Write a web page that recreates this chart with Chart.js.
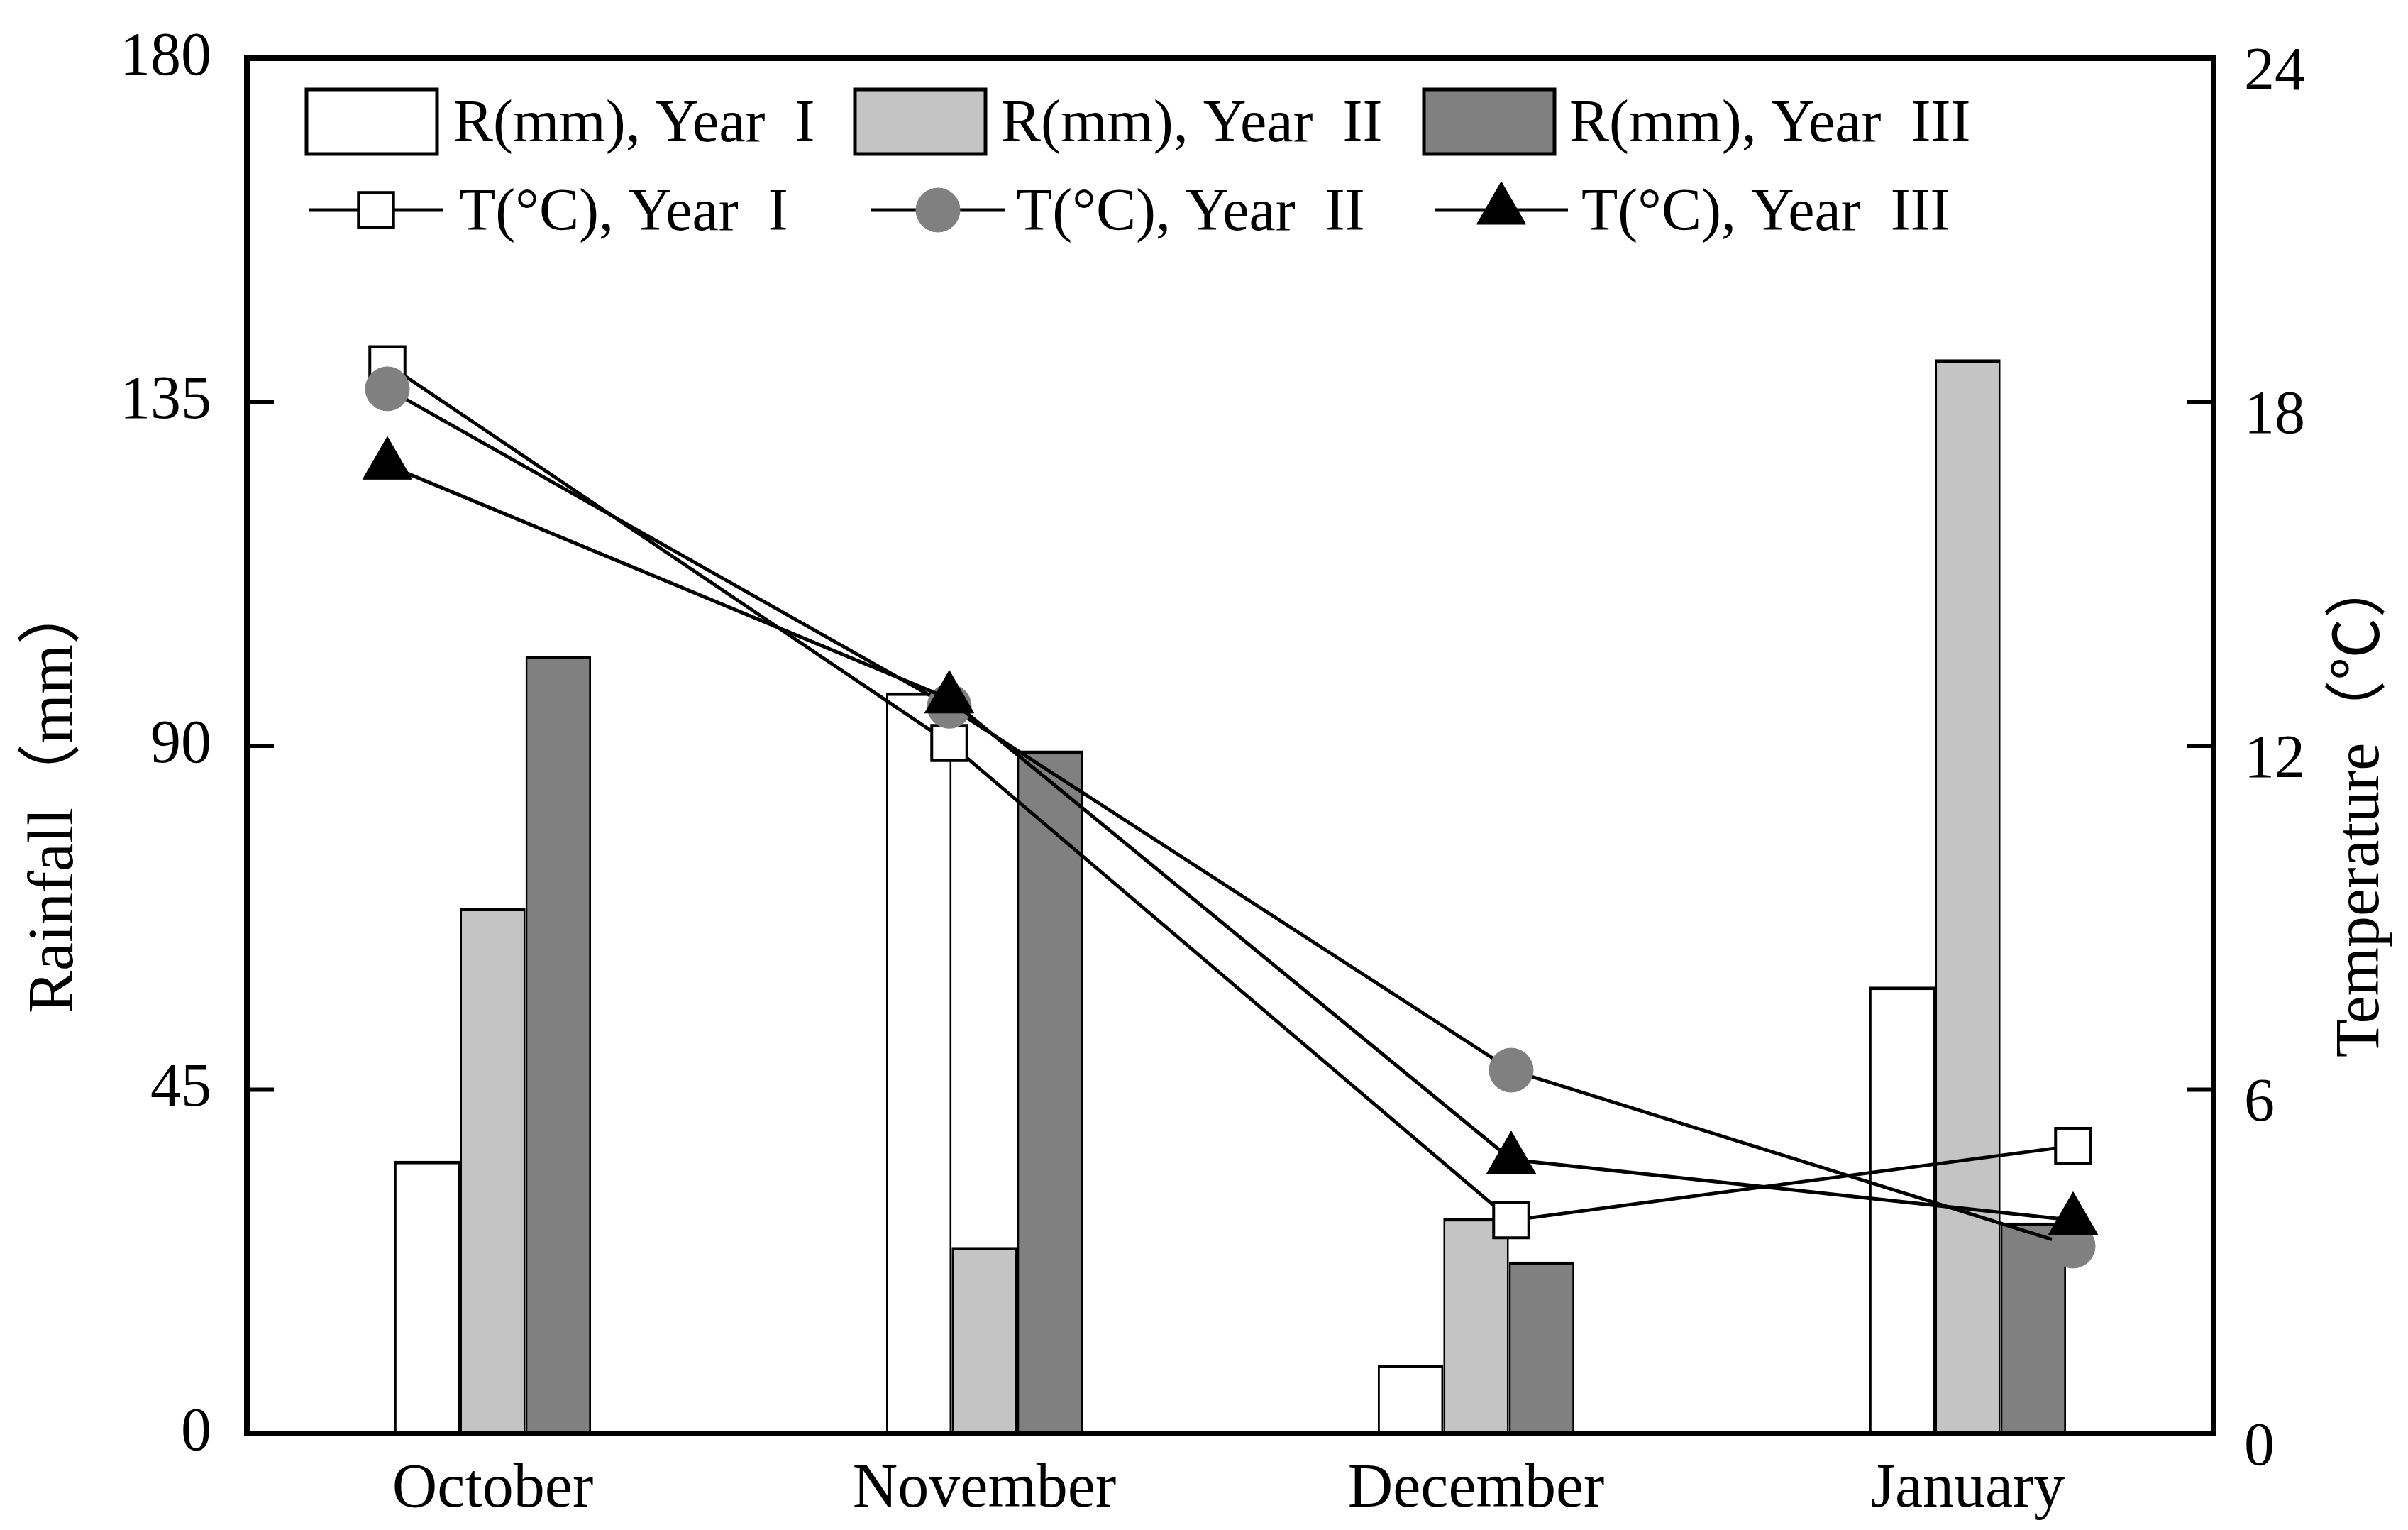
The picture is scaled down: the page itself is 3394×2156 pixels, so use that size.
<!DOCTYPE html>
<html><head><meta charset="utf-8">
<script src="https://cdn.jsdelivr.net/npm/chart.js@4.4.1/dist/chart.umd.min.js"></script>
<style>html,body{margin:0;padding:0;background:#fff;}canvas{display:block;}</style>
</head><body>
<canvas id="c" width="3394" height="2156" style="width:3394px;height:2156px"></canvas>
<script>
// ---- data ----
const months = ['October', 'November', 'December', 'January'];
const rainYear1 = [35.7, 97.0, 9.0, 58.5];
const rainYear2 = [68.8, 24.4, 28.2, 140.6];
const rainYear3 = [101.8, 89.4, 22.5, 27.6];
const tempYear1 = [18.66, 12.05, 3.72, 5.02];
const tempYear2 = [18.23, 12.69, 6.34, 3.27];
const tempYear3 = [16.9, 12.82, 4.78, 3.72];
const rainAxis = {min: 0, max: 180, step: 45};
const tempAxis = {min: 0, max: 24, step: 6};
const rainLabels = ['R(mm), Year  I', 'R(mm), Year  II', 'R(mm), Year  III'];
const tempLabels = ['T(°C), Year  I', 'T(°C), Year  II', 'T(°C), Year  III'];
const yTitleLeft = 'Rainfall（mm）';
const yTitleRight = 'Temperature（℃）';

// Chart.js 4.5 splits bar groups across every index axis in the chart; the line
// series sit on their own hidden x axis, so keep the bars grouped on a single axis.
(function () {
  const P = Chart.BarController && Chart.BarController.prototype;
  if (P && typeof P._getAxisCount === 'function') P._getAxisCount = function () { return 1; };
  if (P && typeof P._getAxis === 'function') P._getAxis = function () {
    const ds = this.getDataset();
    return [ds.xAxisID !== undefined ? ds.xAxisID : this._cachedMeta.xAxisID];
  };
})();

// ---- styles ----
const FONT = "'Liberation Serif', 'Times New Roman', 'Noto Sans CJK SC', serif";
const colW = '#ffffff', colL = '#c4c4c4', colD = '#808080';

const toXY = arr => arr.map((v, i) => ({x: i, y: v}));

const barBase = {
  type: 'bar', xAxisID: 'x', yAxisID: 'y', borderColor: '#000',
  borderWidth: {top: 5, left: 3, right: 3, bottom: 0}, borderSkipped: false,
  categoryPercentage: 0.4, barPercentage: 1.0
};
const lineBase = {
  type: 'line', xAxisID: 'xl', yAxisID: 'y2', borderColor: '#000',
  borderWidth: 5, tension: 0, fill: false
};

const datasets = [
  {...lineBase, label: tempLabels[2], data: toXY(tempYear3), pointStyle: 'triangle', pointRadius: 40,
    pointBackgroundColor: '#000', pointBorderColor: '#000', pointBorderWidth: 1, order: 0},
  {...lineBase, label: tempLabels[1], data: toXY(tempYear2), pointStyle: 'circle', pointRadius: 31,
    pointBackgroundColor: colD, pointBorderColor: colD, pointBorderWidth: 1, order: 1},
  {...lineBase, label: tempLabels[0], data: toXY(tempYear1), pointStyle: 'rect', pointRadius: 35,
    pointBackgroundColor: '#fff', pointBorderColor: '#000', pointBorderWidth: 4, order: 2},
  {...barBase, label: rainLabels[0], data: rainYear1, backgroundColor: colW, order: 3},
  {...barBase, label: rainLabels[1], data: rainYear2, backgroundColor: colL, order: 4},
  {...barBase, label: rainLabels[2], data: rainYear3, backgroundColor: colD, order: 5}
];

function drawMarker(ctx, style, x, y, r, fill, stroke, lw) {
  ctx.save();
  ctx.fillStyle = fill; ctx.strokeStyle = stroke; ctx.lineWidth = lw;
  ctx.beginPath();
  if (style === 'rect') {
    const s = Math.SQRT1_2 * r;
    ctx.rect(x - s, y - s, 2 * s, 2 * s);
  } else if (style === 'circle') {
    ctx.arc(x, y, r, 0, Math.PI * 2);
  } else {
    ctx.moveTo(x, y - r);
    ctx.lineTo(x + 0.866 * r, y + 0.5 * r);
    ctx.lineTo(x - 0.866 * r, y + 0.5 * r);
    ctx.closePath();
  }
  ctx.fill(); ctx.stroke();
  ctx.restore();
}

const decor = {
  id: 'decor',
  afterDraw(chart) {
    const ctx = chart.ctx;
    const a = chart.chartArea;
    ctx.save();
    // frame
    ctx.strokeStyle = '#000';
    ctx.lineWidth = 8;
    ctx.strokeRect(a.left, a.top, a.right - a.left, a.bottom - a.top);
    // inward tick marks
    ctx.lineWidth = 6;
    const yl = chart.scales.y, yr = chart.scales.y2;
    yl.ticks.forEach(t => {
      const p = yl.getPixelForValue(t.value);
      ctx.beginPath(); ctx.moveTo(a.left, p); ctx.lineTo(a.left + 38, p); ctx.stroke();
    });
    yr.ticks.forEach(t => {
      const p = yr.getPixelForValue(t.value);
      ctx.beginPath(); ctx.moveTo(a.right, p); ctx.lineTo(a.right - 38, p); ctx.stroke();
    });
    // axis titles
    ctx.fillStyle = '#000';
    ctx.textBaseline = 'alphabetic';
    ctx.textAlign = 'left';
    ctx.font = '90px ' + FONT;
    ctx.save(); ctx.translate(102, 1428); ctx.rotate(-Math.PI / 2); ctx.fillText(yTitleLeft, 0, 0); ctx.restore();
    ctx.font = '88px ' + FONT;
    ctx.save(); ctx.translate(3352, 1490); ctx.rotate(-Math.PI / 2); ctx.fillText(yTitleRight, 0, 0); ctx.restore();

    // legend
    const barDs = datasets.filter(d => d.type === 'bar');
    const lineDs = [datasets[2], datasets[1], datasets[0]];
    const boxX = [432, 1205, 2007], boxTextX = [639, 1411, 2212];
    const lnX = [436, 1228, 2022], lnTextX = [647, 1432, 2229];
    ctx.font = '84px ' + FONT;
    barDs.forEach((d, i) => {
      ctx.fillStyle = d.backgroundColor; ctx.strokeStyle = '#000'; ctx.lineWidth = 5;
      ctx.fillRect(boxX[i], 126, 184, 91);
      ctx.strokeRect(boxX[i], 126, 184, 91);
      ctx.fillStyle = '#000';
      ctx.fillText(d.label, boxTextX[i], 199);
    });
    lineDs.forEach((d, i) => {
      ctx.strokeStyle = '#000'; ctx.lineWidth = 5;
      ctx.beginPath(); ctx.moveTo(lnX[i], 296); ctx.lineTo(lnX[i] + 188, 296); ctx.stroke();
      drawMarker(ctx, d.pointStyle, lnX[i] + 94, 296, d.pointRadius, d.pointBackgroundColor, d.pointBorderColor, d.pointBorderWidth);
      ctx.fillStyle = '#000';
      ctx.fillText(d.label, lnTextX[i], 324);
    });
    ctx.restore();
  }
};

new Chart(document.getElementById('c'), {
  type: 'bar',
  data: {labels: months, datasets},
  options: {
    responsive: false, devicePixelRatio: 1, animation: false,
    layout: {padding: {top: 82, left: 0, right: 0, bottom: 0}},
    plugins: {legend: {display: false}, tooltip: {enabled: false}},
    scales: {
      x: {type: 'category', offset: true,
        grid: {display: false, drawTicks: false}, border: {display: false},
        ticks: {font: {family: FONT, size: 88}, color: '#000', padding: 27, maxRotation: 0},
        afterFit(s) { s.height = 136; s.paddingLeft = 0; s.paddingRight = 0; }},
      xl: {type: 'linear', display: false, offset: false, min: -0.25, max: 3.25},
      y: {position: 'left', min: rainAxis.min, max: rainAxis.max,
        ticks: {stepSize: rainAxis.step, font: {family: FONT, size: 86}, color: '#000', padding: 50},
        grid: {display: false, drawTicks: false}, border: {display: false},
        afterFit(s) { s.width = 348; s.paddingTop = 0; s.paddingBottom = 0; }},
      y2: {position: 'right', min: tempAxis.min, max: tempAxis.max,
        ticks: {stepSize: tempAxis.step, font: {family: FONT, size: 86}, color: '#000', padding: 43, labelOffset: 21},
        grid: {display: false, drawTicks: false}, border: {display: false},
        afterFit(s) { s.width = 274; s.paddingTop = 0; s.paddingBottom = 0; }}
    }
  },
  plugins: [decor]
});
</script>
</body></html>
